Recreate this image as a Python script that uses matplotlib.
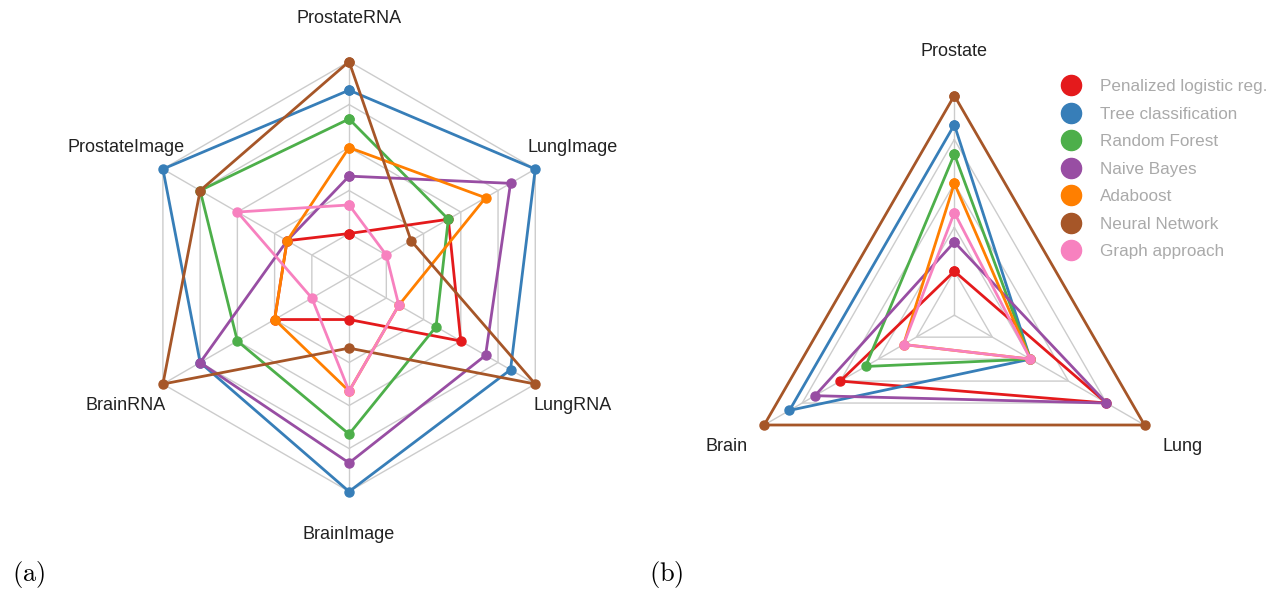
import matplotlib
matplotlib.use('Agg')
import matplotlib.pyplot as plt
import numpy as np

plt.rcParams['font.family'] = ['Liberation Sans', 'DejaVu Sans']
plt.rcParams['mathtext.fontset'] = 'cm'

methods = ['Penalized logistic reg.', 'Tree classification', 'Random Forest',
           'Naive Bayes', 'Adaboost', 'Neural Network', 'Graph approach']
colors = ['#e41a1c', '#377eb8', '#4daf4a', '#984ea3', '#ff7f00', '#a65628', '#f781bf']

# (a) six data sets
labels_a = ['ProstateRNA', 'LungImage', 'LungRNA', 'BrainImage', 'BrainRNA', 'ProstateImage']
logreg_a = [0.2, 0.533, 0.6, 0.2, 0.4, 0.333]
tree_a = [0.867, 1.0, 0.867, 1.0, 0.8, 1.0]
forest_a = [0.733, 0.533, 0.467, 0.733, 0.6, 0.8]
bayes_a = [0.467, 0.867, 0.733, 0.867, 0.8, 0.333]
ada_a = [0.6, 0.733, 0.267, 0.533, 0.4, 0.333]
nnet_a = [1.0, 0.333, 1.0, 0.333, 1.0, 0.8]
graph_a = [0.333, 0.2, 0.267, 0.533, 0.2, 0.6]

# (b) three organs
labels_b = ['Prostate', 'Lung', 'Brain']
logreg_b = [0.2, 0.8, 0.6]
tree_b = [0.867, 0.4, 0.867]
forest_b = [0.733, 0.4, 0.467]
bayes_b = [0.333, 0.8, 0.733]
ada_b = [0.6, 0.4, 0.267]
nnet_b = [1.0, 1.0, 1.0]
graph_b = [0.467, 0.4, 0.267]

rings = [0.2, 0.4, 0.6, 0.8, 1.0]


def radar(ax, labels, series):
    n = len(labels)
    theta = np.arange(n) * 2 * np.pi / n
    closed = np.append(theta, theta[0])
    ax.set_theta_zero_location('N')
    ax.set_theta_direction(-1)
    ax.set_ylim(0, 1)
    ax.grid(False)
    ax.set_xticks([])
    ax.set_yticks([])
    ax.spines['polar'].set_visible(False)
    ax.patch.set_alpha(0)
    for lv in rings:
        ax.plot(closed, [lv] * (n + 1), color='#cccccc', lw=1.0, zorder=1, clip_on=False)
    for t in theta:
        ax.plot([t, t], [0, 1], color='#cccccc', lw=1.0, zorder=1, clip_on=False)
    for vals, c in zip(series, colors):
        v = np.append(vals, vals[0])
        ax.plot(closed, v, color=c, lw=2.0, marker='o', ms=6.5, zorder=3, clip_on=False)
    for t, lab in zip(theta, labels):
        ax.text(t, 1.2, lab, ha='center', va='center', fontsize=13, color='#222222')


fig = plt.figure(figsize=(12.78, 5.89), dpi=100)
ax1 = fig.add_axes([0.1049, 0.1655, 0.3365, 0.730], projection='polar')
ax2 = fig.add_axes([0.5749, 0.092, 0.3437, 0.7457], projection='polar')

radar(ax1, labels_a, [logreg_a, tree_a, forest_a, bayes_a, ada_a, nnet_a, graph_a])
radar(ax2, labels_b, [logreg_b, tree_b, forest_b, bayes_b, ada_b, nnet_b, graph_b])

handles = [plt.Line2D([], [], ls='none', marker='o', ms=14.5, color=c) for c in colors]
leg = fig.legend(handles, methods, loc='upper left', bbox_to_anchor=(0.8245, 0.877),
                 frameon=False, fontsize=12.3, labelcolor='#aaaaaa', handletextpad=1.13,
                 labelspacing=0.73, borderaxespad=0, handlelength=1.2)

fig.text(29 / 1278, 1 - 574 / 589, r'$\mathrm{(a)}$', fontsize=19, ha='center', va='center')
fig.text(666 / 1278, 1 - 574 / 589, r'$\mathrm{(b)}$', fontsize=19, ha='center', va='center')

fig.savefig('out.png', dpi=100)
